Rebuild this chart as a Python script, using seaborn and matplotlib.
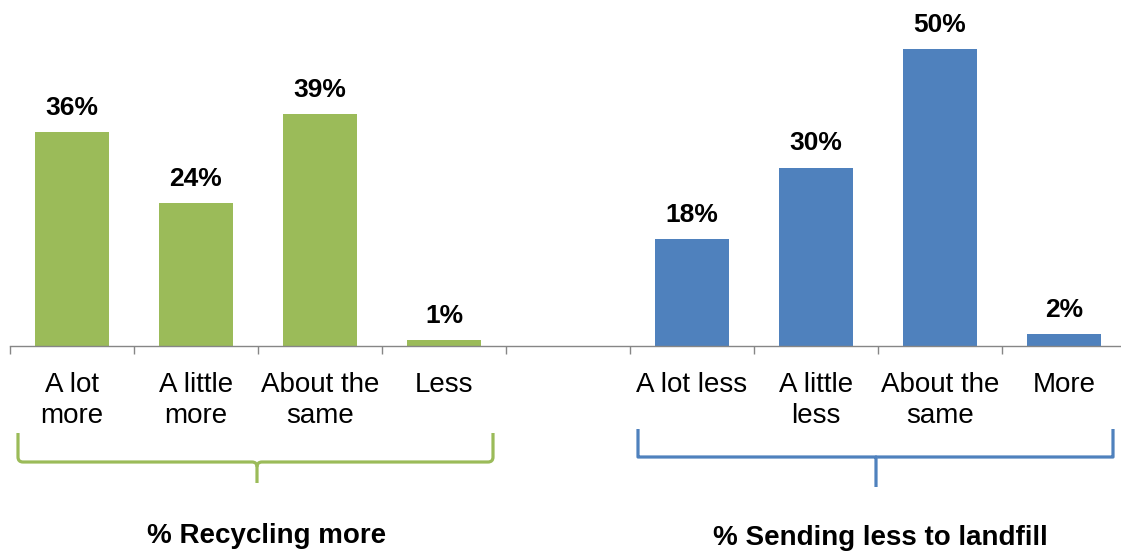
import numpy as np
import pandas as pd
import matplotlib
matplotlib.use('Agg')
import matplotlib.pyplot as plt
from matplotlib.path import Path
import matplotlib.patches as mpatches
import seaborn as sns

sns.set_theme(style='white')
plt.rcParams['font.family'] = ['Liberation Sans', 'DejaVu Sans']

# ── data ────────────────────────────────────────────────────────
rec_labels = ['A lot\nmore', 'A little\nmore', 'About the\nsame', 'Less']
rec_values = [36, 24, 39, 1]
land_labels = ['A lot less', 'A little\nless', 'About the\nsame', 'More']
land_values = [18, 30, 50, 2]
groups = ['% Recycling more', '% Sending less to landfill']
colors = ['#9BBB59', '#4F81BD']

rec_keys = [f'r{i}' for i in range(len(rec_values))]
land_keys = [f'l{i}' for i in range(len(land_values))]
order = rec_keys + ['gap'] + land_keys

df = pd.DataFrame({
    'key': rec_keys + land_keys,
    'value': rec_values + land_values,
    'group': [groups[0]] * len(rec_values) + [groups[1]] * len(land_values),
})

# ── figure ──────────────────────────────────────────────────────
W, H = 1121, 554
fig = plt.figure(figsize=(W / 100, H / 100), dpi=100)
base_px, left_px, right_px = 346, 10, 1126
ax = fig.add_axes([left_px / W, (H - base_px) / H,
                   (right_px - left_px) / W, base_px / H])
ax.patch.set_alpha(0)

sns.barplot(data=df, x='key', y='value', hue='group', order=order,
            hue_order=groups, palette=colors, saturation=1, dodge=False,
            width=0.59, linewidth=0, legend=False, ax=ax)

ax.set_xlim(-0.5, len(order) - 0.5)
ax.set_ylim(0, base_px / 5.94)
for c in ax.containers:
    ax.bar_label(c, fmt='{:.0f}%', padding=9, fontsize=19,
                 fontweight='bold', color='black')

ax.set_xticks(range(len(order)))
ax.set_xticklabels(rec_labels + [''] + land_labels, fontsize=20,
                   linespacing=1.25, color='black')
ax.set_xticks(np.arange(-0.5, len(order), 1), minor=True)
ax.tick_params(axis='x', which='major', length=0, pad=18.5)
ax.tick_params(axis='x', which='minor', length=6, width=1,
               color='#868686', direction='out', bottom=True)
ax.set_yticks([])
ax.set_xlabel('')
ax.set_ylabel('')
for s in ['top', 'left', 'right']:
    ax.spines[s].set_visible(False)
ax.spines['bottom'].set_color('#868686')
ax.spines['bottom'].set_linewidth(1)

# ── braces + group titles (pixel overlay) ───────────────────────
ov = fig.add_axes([0, 0, 1, 1])
ov.set_xlim(0, W)
ov.set_ylim(H, 0)
ov.axis('off')
ov.patch.set_alpha(0)


def brace(x0, x1, xm, ytop, ymid, ybot, color, r):
    verts = [(x0, ytop), (x0, ymid - r), (x0, ymid), (x0 + r, ymid),
             (xm - r, ymid), (xm, ymid), (xm, ymid + r), (xm, ybot)]
    codes = [Path.MOVETO, Path.LINETO, Path.CURVE3, Path.CURVE3,
             Path.LINETO, Path.CURVE3, Path.CURVE3, Path.LINETO]
    ov.add_patch(mpatches.PathPatch(Path(verts, codes), fill=False,
                                    edgecolor=color, lw=2.3,
                                    capstyle='butt', joinstyle='round'))
    verts = [(x1, ytop), (x1, ymid - r), (x1, ymid), (x1 - r, ymid),
             (xm + r, ymid), (xm, ymid), (xm, ymid + r)]
    codes = [Path.MOVETO, Path.LINETO, Path.CURVE3, Path.CURVE3,
             Path.LINETO, Path.CURVE3, Path.CURVE3]
    ov.add_patch(mpatches.PathPatch(Path(verts, codes), fill=False,
                                    edgecolor=color, lw=2.3,
                                    capstyle='butt', joinstyle='round'))


brace(18, 493, 257, 433, 462, 483, colors[0], 5)
brace(638, 1113, 876, 429, 457, 487, colors[1], 0.01)

ov.text(267, 543, groups[0], ha='center', va='baseline',
        fontsize=20, fontweight='bold', color='black')
ov.text(880, 545, groups[1], ha='center', va='baseline',
        fontsize=20, fontweight='bold', color='black')

fig.savefig('out.png', dpi=100)
